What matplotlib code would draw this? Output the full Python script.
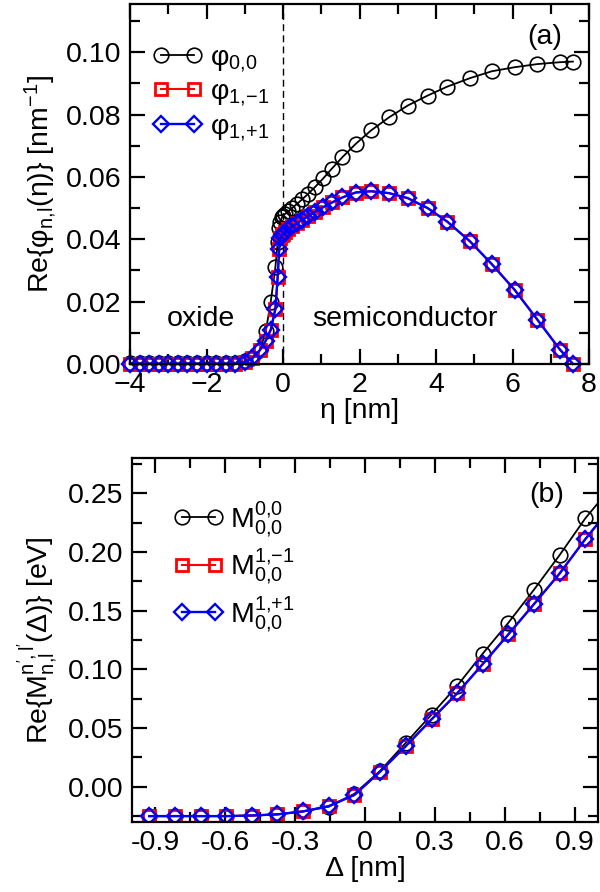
import matplotlib
matplotlib.use('Agg')
import matplotlib.pyplot as plt
from matplotlib.ticker import MultipleLocator

plt.rcParams['font.family'] = ['Liberation Sans', 'DejaVu Sans']
plt.rcParams['mathtext.fontset'] = 'custom'
plt.rcParams['mathtext.rm'] = 'Liberation Sans'
plt.rcParams['mathtext.it'] = 'Liberation Sans:italic'
plt.rcParams['mathtext.bf'] = 'Liberation Sans:bold'
plt.rcParams['mathtext.default'] = 'regular'

# panel (a): basis functions vs eta
eta = [-4.0, -3.75, -3.5, -3.25, -3.0, -2.75, -2.5, -2.25, -2.0, -1.75, -1.5, -1.25,
       -1.0, -0.8, -0.6, -0.45, -0.32, -0.2, -0.14, -0.1, -0.07, -0.03, 0.0,
       0.06, 0.14, 0.24, 0.36, 0.5, 0.66, 0.84, 1.05, 1.28, 1.55, 1.9, 2.3, 2.77,
       3.26, 3.78, 4.3, 4.89, 5.46, 6.06, 6.65, 7.24, 7.58]
phi_00 = [0.0002, 0.0002, 0.0002, 0.0002, 0.0002, 0.0002, 0.0002, 0.0002, 0.0002, 0.0002, 0.0002, 0.0002,
          0.0008, 0.002, 0.0045, 0.0105, 0.020, 0.031, 0.039, 0.0435, 0.0455, 0.047, 0.0475,
          0.0482, 0.049, 0.050, 0.0513, 0.0528, 0.0546, 0.0568, 0.0595, 0.0627, 0.0663, 0.0706, 0.0749, 0.0791,
          0.0829, 0.0861, 0.089, 0.0917, 0.0939, 0.0952, 0.0962, 0.0968, 0.097]
phi_1m1 = [0.0, 0.0, 0.0, 0.0, 0.0, 0.0, 0.0, 0.0, 0.0, 0.0, 0.0, 0.0,
           0.0006, 0.0018, 0.0045, 0.0075, 0.011, 0.0176, 0.0278, 0.0369, 0.0403, 0.0413, 0.0418,
           0.0424, 0.0432, 0.0441, 0.0451, 0.0462, 0.0474, 0.0488, 0.0503, 0.0518, 0.0534, 0.055, 0.0554, 0.0548,
           0.0532, 0.050, 0.0456, 0.0393, 0.032, 0.0237, 0.0142, 0.0046, 0.0]
phi_1p1 = [0.0, 0.0, 0.0, 0.0, 0.0, 0.0, 0.0, 0.0, 0.0, 0.0, 0.0, 0.0,
           0.0006, 0.0018, 0.0045, 0.0075, 0.011, 0.0176, 0.0278, 0.0369, 0.0403, 0.0413, 0.0418,
           0.0424, 0.0432, 0.0441, 0.0451, 0.0462, 0.0474, 0.0488, 0.0503, 0.0518, 0.0534, 0.055, 0.0554, 0.0548,
           0.0532, 0.050, 0.0456, 0.0393, 0.032, 0.0237, 0.0142, 0.0046, 0.0]

# panel (b): matrix elements vs delta
delta = [-0.926, -0.816, -0.706, -0.596, -0.486, -0.376, -0.266, -0.156, -0.046,
         0.064, 0.175, 0.285, 0.395, 0.505, 0.615, 0.725, 0.835, 0.945, 1.055]
M_00 = [-0.025, -0.025, -0.025, -0.025, -0.0245, -0.0235, -0.021, -0.017, -0.006,
        0.0135, 0.0375, 0.0615, 0.086, 0.1135, 0.1398, 0.168, 0.1975, 0.2287, 0.255]
M_1m1 = [-0.025, -0.025, -0.025, -0.025, -0.0245, -0.0235, -0.021, -0.0165, -0.007,
         0.0128, 0.0347, 0.0574, 0.0796, 0.1046, 0.1299, 0.1557, 0.1818, 0.211, 0.238]
M_1p1 = [-0.025, -0.025, -0.025, -0.025, -0.0245, -0.0235, -0.021, -0.0165, -0.007,
         0.0128, 0.0347, 0.0574, 0.0796, 0.1046, 0.1299, 0.1557, 0.1818, 0.211, 0.238]

fig = plt.figure(figsize=(6, 8.92), dpi=100)
ax1 = fig.add_axes([0.2167, 0.592, 0.765, 0.4036])
ax2 = fig.add_axes([0.22, 0.0785, 0.777, 0.408])

fs = 20.5

def style(ax):
    for s in ax.spines.values():
        s.set_linewidth(1.6)
    ax.tick_params(which='both', direction='in', top=True, right=True, width=1.6, labelsize=fs)
    ax.tick_params(which='major', length=11, pad=6)
    ax.tick_params(which='minor', length=7)

blk = dict(color='black', lw=1.3, marker='o', ms=10.5, mfc='none', mec='black', mew=1.2)
red = dict(color='red', lw=1.5, marker='s', ms=9, mfc='none', mec='red', mew=2.0)
blu = dict(color='blue', lw=1.7, marker='D', ms=8, mfc='none', mec='blue', mew=1.7)

# top panel
ax1.axvline(0, color='black', lw=1, ls=(0, (5, 3)))
ax1.plot(eta, phi_00, clip_on=False, label='φ$_{0{,}0}$', **blk)
ax1.plot(eta, phi_1m1, clip_on=False, label='φ$_{1{,}{-}1}$', **red)
ax1.plot(eta, phi_1p1, clip_on=False, label='φ$_{1{,}{+}1}$', **blu)
ax1.set_xlim(-4, 8)
ax1.set_ylim(0, 0.1155)
ax1.xaxis.set_major_locator(MultipleLocator(2))
ax1.xaxis.set_minor_locator(MultipleLocator(1))
ax1.yaxis.set_minor_locator(MultipleLocator(0.01))
ax1.set_yticks([0, 0.02, 0.04, 0.06, 0.08, 0.10])
ax1.set_yticklabels(['0.00', '0.02', '0.04', '0.06', '0.08', '0.10'])
style(ax1)
ax1.set_xlabel('η [nm]', fontsize=fs, labelpad=0)
ax1.set_ylabel('Re{φ$_{n{,}l}$(η)} [nm$^{{-}1}$]', fontsize=fs, labelpad=6)
ax1.text(-2.15, 0.0145, 'oxide', fontsize=fs, ha='center', va='center')
ax1.text(3.18, 0.0145, 'semiconductor', fontsize=fs, ha='center', va='center')
ax1.text(6.83, 0.1048, '(a)', fontsize=fs, ha='center', va='center')
ax1.legend(loc='upper left', bbox_to_anchor=(0.0, 0.95), frameon=False, fontsize=fs, numpoints=2,
           handlelength=1.75, handletextpad=0.25, labelspacing=0.2, borderaxespad=0.4)

# bottom panel
ax2.plot(delta, M_00, label='M$^{0{,}0}_{0{,}0}$', **blk)
ax2.plot(delta, M_1m1, label='M$^{1{,}{-}1}_{0{,}0}$', **red)
ax2.plot(delta, M_1p1, label='M$^{1{,}{+}1}_{0{,}0}$', **blu)
ax2.set_xlim(-1.0, 1.0)
ax2.set_ylim(-0.03, 0.28)
ax2.set_xticks([-0.9, -0.6, -0.3, 0, 0.3, 0.6, 0.9])
ax2.set_xticklabels(['-0.9', '-0.6', '-0.3', '0', '0.3', '0.6', '0.9'])
ax2.xaxis.set_minor_locator(MultipleLocator(0.15))
ax2.set_yticks([0, 0.05, 0.10, 0.15, 0.20, 0.25])
ax2.set_yticklabels(['0.00', '0.05', '0.10', '0.15', '0.20', '0.25'])
ax2.yaxis.set_minor_locator(MultipleLocator(0.025))
style(ax2)
ax2.set_xlabel('Δ [nm]', fontsize=fs, labelpad=0)
ax2.set_ylabel("Re{M$^{n',l'}_{n{,}l}$(Δ)} [eV]", fontsize=fs, labelpad=6)
ax2.text(0.78, 0.2486, '(b)', fontsize=fs, ha='center', va='center')
ax2.legend(loc='upper left', bbox_to_anchor=(0.04, 0.95), frameon=False, fontsize=fs, numpoints=2,
           handlelength=1.75, handletextpad=0.25, labelspacing=0.25, borderaxespad=0.4)

fig.savefig('out.png', dpi=100)
